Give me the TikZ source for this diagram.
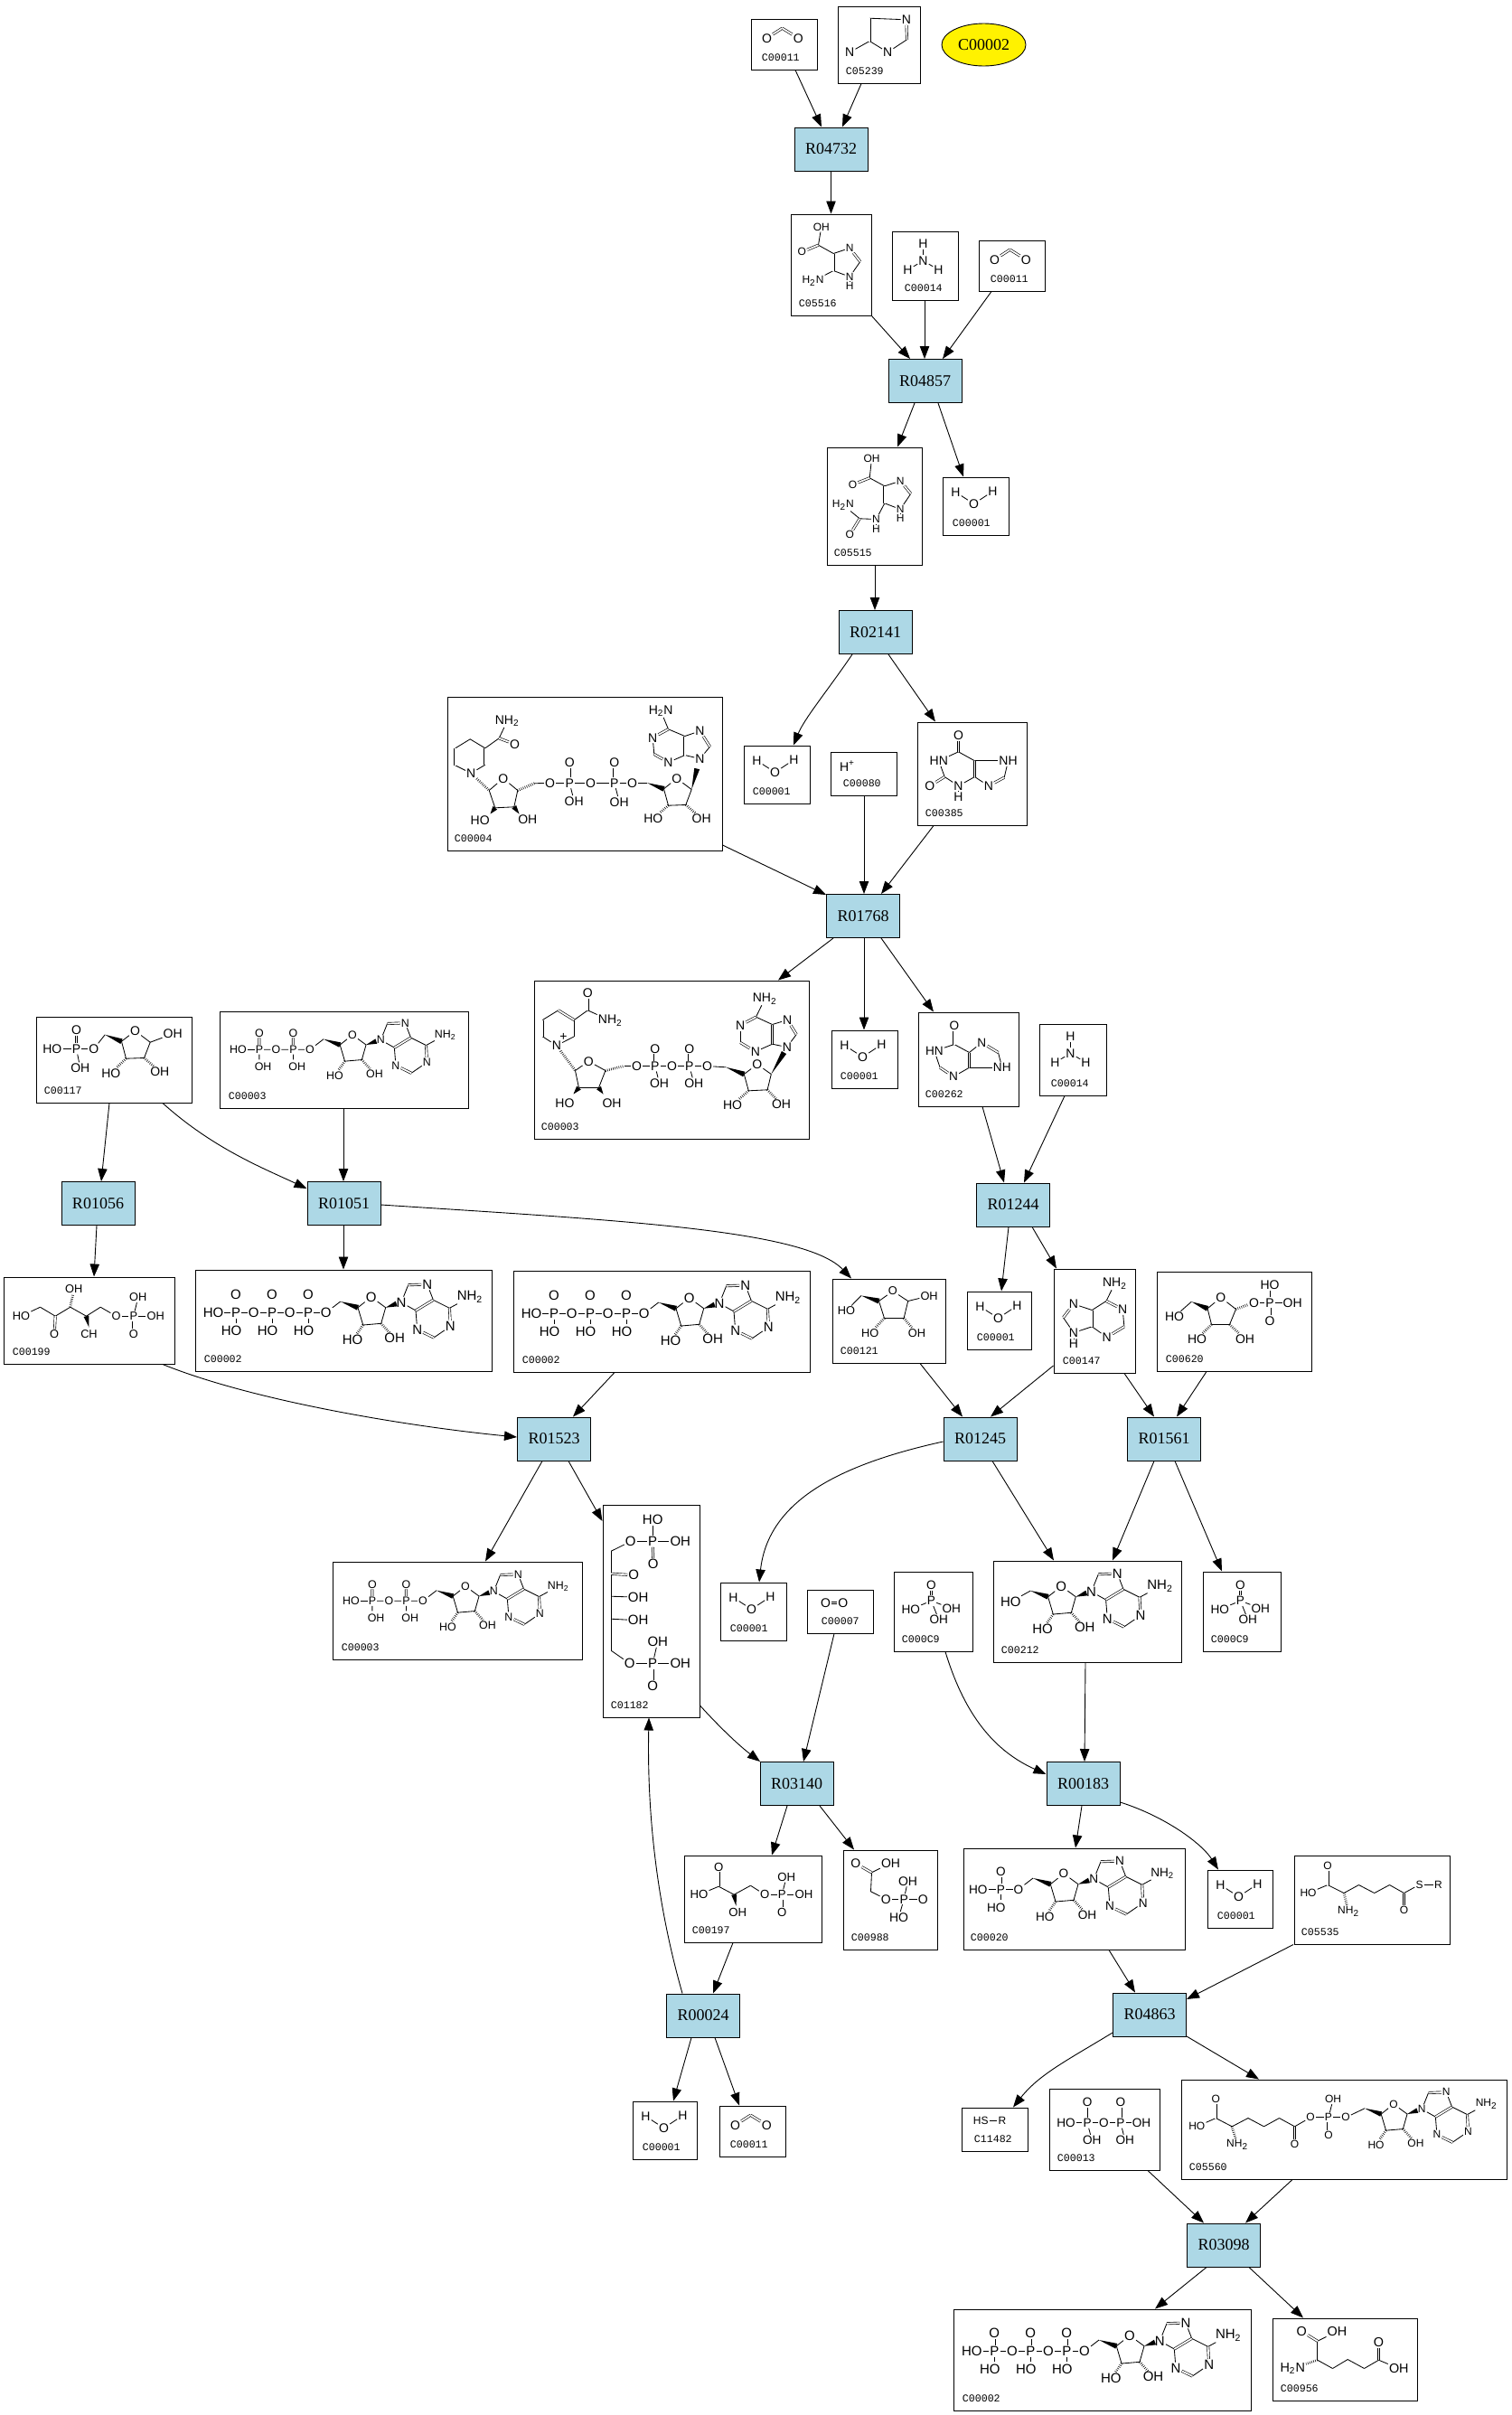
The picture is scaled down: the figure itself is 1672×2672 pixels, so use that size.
\documentclass[tikz,border=0pt]{standalone}
\usepackage{fontspec}
\setmainfont{Liberation Sans}
\newfontfamily\rxnfont{Liberation Serif}
\newfontfamily\capfont{Liberation Mono}
\usetikzlibrary{arrows.meta,calc,shapes.geometric}
\definecolor{rxnBlue}{HTML}{ADD8E6}
\def\atsize{7.5}
\tikzset{
  cmpd/.style={draw=black, line width=.5pt, inner sep=0pt},
  clab/.style={anchor=base west, inner sep=0pt, font=\capfont\fontsize{5.8}{6}\selectfont},
  rxn/.style={draw=black, fill=rxnBlue, line width=.5pt, inner sep=0pt, minimum width=40.5pt, minimum height=24pt, font=\rxnfont\fontsize{9}{10}\selectfont},
  spot/.style={ellipse, draw=black, fill=yellow, line width=.45pt, inner sep=0pt, minimum width=46.5pt, minimum height=23.5pt, font=\rxnfont\fontsize{9}{10}\selectfont},
  arr/.style={-{Triangle[length=7pt,width=5.2pt]}, line width=.45pt, black},
  atom/.style={inner sep=.4pt, font=\fontsize{\atsize}{\atsize}\selectfont},
  bond/.style={line width=.42pt},
  dbl/.style={line width=.32pt, double, double distance=.85pt},
  hashb/.style={line width=1.4pt, dash pattern=on .28pt off .8pt},
  atsz/.code={\def\atsize{#1}},
}
% helpers for the structure formulas
\newcommand\verts[1]{\foreach \na/\px/\py in {#1} \coordinate (-\na) at (\px,\py);}
\newcommand\atoms[1]{\foreach \na/\px/\py/\lb in {#1} \node[atom] (-\na) at (\px,\py) {\lb};}
\newcommand\bonds[1]{\foreach \pa/\pb in {#1} \draw[bond] (-\pa) -- (-\pb);}
\newcommand\dbonds[1]{\foreach \pa/\pb in {#1} \draw[dbl] (-\pa) -- (-\pb);}
\newcommand\hashes[1]{\foreach \pa/\pb in {#1} \draw[hashb] (-\pa) -- (-\pb);}
\newcommand\wedges[1]{\foreach \pa/\pb in {#1} \fill (-\pa) -- ($(-\pb)!1.5pt!90:(-\pa)$) -- ($(-\pb)!1.5pt!-90:(-\pa)$) -- cycle;}
\newcommand\nht{NH\textsubscript{2}}
\newcommand\hnt{H\textsubscript{2}N}
\newcommand\adocore{%
  \verts{c4/-14.7/11.7, c3/-9/31, c2/11/29.3, c1/16/11.7, ch/-34/5, w9/28/7.5, c8/41/-13.3, c5/68.7/3.3, c4b/49.3/15, c2b/69.3/45, c6/86.7/12.3}
  \atoms{o/0/0/O, n9/33.3/6/N, n7/62/-14/N, n3/51/36/N, n1/87.7/32.3/N, nh/109.3/0/\nht, ho/-20.7/47.7/HO, oh/26/45.7/OH}
  \bonds{c4/o, o/c1, c1/c2, c2/c3, c3/c4, n9/c8, n7/c5, c5/c6, c6/nh, n1/c2b, n3/c4b, c4b/n9}
  \dbonds{c8/n7, c5/c4b, c6/n1, c2b/n3}
  \hashes{c3/ho, c2/oh}
  \wedges{ch/c4, c1/w9}
}
\newcommand\phoschain[3]{%
  \foreach \k in {1,...,#1}{
    \pgfmathsetmacro\xp{-69.7-40*(\k-1)}
    \pgfmathtruncatemacro\j{\k-1}
    \node[atom] (-o\k) at ({\xp+19.7},17.3) {O};
    \node[atom] (-p\k) at (\xp,17.3) {P};
    \node[atom] (-u\k) at (\xp,-2.3) {O};
    \node[atom] (-d\k) at ({\xp+#3},37.7) {#2};
    \draw[bond] (-o\k) -- (-p\k);
    \draw[dbl] (-p\k) -- (-u\k);
    \draw[bond] (-p\k) -- (\xp,29);
    \ifnum\k>1 \draw[bond] (-o\k) -- (-p\j); \fi
  }
  \node[atom] (-t) at ({-69.7-40*(#1-1)-25},17.3) {HO};
  \draw[bond] (-t) -- (-p#1);
  \draw[bond] (-ch) -- (-o1);
}
\tikzset{
  pics/water/.style={code={\atoms{a/15/17/H, o/35/30/O, b/56/16/H}\bonds{a/o, o/b}}},
  pics/co2/.style={code={\verts{c/35/10.7}\atoms{a/18/21.7/O, b/52.7/21.7/O}\dbonds{a/c, c/b}}},
  pics/nh3/.style={code={\atoms{t/35/14/H, n/35/33/N, l/18/43/H, r/52/43/H}\bonds{t/n, n/l, n/r}}},
  pics/phosac/.style={code={\atoms{o/42/15/O, p/42/32.7/P, l/19.3/42/HO, r/64.3/41/OH, d/50.3/53.7/OH}\dbonds{o/p}\bonds{p/l, p/r, p/d}}},
  pics/ado/.style={code={\adocore}},
  pics/atp/.style={code={\adocore\phoschain{3}{HO}{-5}}},
  pics/adp/.style={code={\adocore\phoschain{2}{OH}{4.5}}},
  pics/amp/.style={code={\adocore\phoschain{1}{HO}{-5}}},
  pics/ade/.style={code={\adocore\atoms{hy/-56/17.3/HO}\bonds{ch/hy}}},
  pics/aminoimid/.style={code={
    \verts{a/35.7/13.7, b/35.7/39, c/77/37.3}
    \atoms{n1/76.3/15.3/N, n2/55.7/51.3/N, n3/13.7/51.3/N}
    \bonds{a/n1, b/n2, n2/c, b/n3}\dbonds{a/b, c/n1}}},
  pics/aicar/.style={code={
    \verts{c/31/34.7, c4/47.7/44, c2/77.3/53, c5/47.7/63}
    \atoms{oh/34.3/14.7/OH, o/12.7/42.3/O, n3/65.7/38/N, n1/65.7/69.7/N, h/65.7/79.7/H, am/25/74.7/\hnt}
    \bonds{oh/c, c/c4, c4/n3, c2/n1, n1/c5, n1/h, c5/am}\dbonds{c/o, c4/c5, n3/c2}}},
  pics/faicar/.style={code={
    \verts{c/47.7/34.3, c4/64.3/43.3, c2/93.3/51.7, c5/64.3/62.3, f/36.7/79.3}
    \atoms{oh/50/13.3/OH, o/29/41.7/O, n3/81.7/37.7/N, n1/81.7/69/N, h/81.7/79/H, nn/55/80/N, hh/55/90.7/H, ob/25.7/97.3/O, am/18.3/64.3/\hnt}
    \bonds{oh/c, c/c4, c4/n3, c2/n1, n1/c5, n1/h, c5/nn, nn/hh, nn/f, f/am}\dbonds{c/o, c4/c5, n3/c2, f/ob}}},
  pics/xanth/.style={code={
    \verts{c6/46/33.3, c2/30.7/61, c4/64/61, c5/64/43.3, c8/96.7/61.7}
    \atoms{o/46/15/O, hn/24.3/43.3/HN, ob/14.3/71/O, n3/46/71/N, h/46/82.7/H, nh/101/43.3/NH, n/79.3/71/N}
    \bonds{c6/hn, hn/c2, c2/n3, n3/h, n3/c4, c5/c6, c5/nh, nh/c8, n/c4}\dbonds{c6/o, c2/ob, c4/c5, c8/n}}},
  pics/hypox/.style={code={
    \verts{c6/40.4/36, c2/24.6/61.7, c4/57/61.7, c5/57/45, c8/89/45}
    \atoms{o/40.4/15/O, hn/18.4/43.3/HN, n3/39.6/71.7/N, n7/70.8/34/N, nh/93.3/61.7/NH}
    \bonds{c6/hn, hn/c2, n3/c4, c5/c6, c5/n7, c8/nh, nh/c4}\dbonds{c6/o, c2/n3, c4/c5, n7/c8}}},
  pics/adenine/.style={code={
    \verts{c6/58.5/36, c2/78.4/64.3, c4/42.8/64.3, c5/42.8/46, c8/11/54.3}
    \atoms{nh/68/16.7/\nht, n1/76.7/45.3/N, n3/59.2/76/N, n7/22.5/39.3/N, n9/22.5/71/N, h/22.5/83.3/H}
    \bonds{c6/nh, c6/c5, n1/c2, n3/c4, c5/n7, c8/n9, n9/c4, n9/h}\dbonds{c6/n1, c2/n3, c4/c5, n7/c8}}},
  pics/nadh/.style={code={
    \verts{a1/9.3/76.3, a2/9.3/57.3, a3/25.7/47.3, a4/42.3/57.3, a5/42.3/75.7, am/57.7/46.3, r1/46.7/104, r2/53.3/123.3, r3/74.3/122.3, r4/78.3/104, ch/96.7/96.3, s4/240/102.3, s3/245/120.7, s2/264.3/120, s1/270.7/103, sch/221.7/95.7, w9/276.7/80, g8/291/55.7, g5/263.3/44, g4/263.3/65, g2/229.3/64, g6/245/36.3, t1/48/130, t2/80/130}
    \atoms{n/26.7/85/N, ao/75/53/O, an/66.7/27.3/\nht, ro/62.3/90.7/O, rh/36.7/136.7/HO, rk/89.3/135.7/OH, o1/114/95.7/O, p1/135.7/95.7/P, u1/135.7/73/O, d1/140.7/115.7/OH, o2/159/95.7/O, p2/185.3/95.7/P, u2/185.3/73/O, d2/190.7/116.7/OH, o3/205/95.7/O, so/254.3/90.7/O, sh/228.3/135/HO, sk/281.7/135/OH, n9/280/69/N, n7/280/38.3/N, n3/245/73/N, n1/227.7/45.7/N, ah/236.7/16.3/\hnt}
    \bonds{n/a1, a2/a3, a3/a4, a5/n, a4/am, am/an, r1/ro, ro/r4, r4/r3, r3/r2, r2/r1, ch/o1, o1/p1, p1/o2, o2/p2, p2/o3, o3/sch, s4/so, so/s1, s1/s2, s2/s3, s3/s4, n9/g4, n9/g8, n7/g5, g5/g6, g4/n3, g2/n1, g6/ah, p1/d1, p2/d2}
    \dbonds{a1/a2, a4/a5, am/ao, p1/u1, p2/u2, g8/n7, g4/g5, n3/g2, n1/g6}
    \hashes{n/r1, r4/ch, s3/sh, s2/sk}
    \wedges{sch/s4, s1/w9, t1/r2, t2/r3}}},
  pics/nadp/.style={code={
    \verts{a1/9.8/62.3, a2/9.8/44, a3/27.3/33.3, a4/44.8/44, a5/44.8/62.3, am/59.8/33.3, r1/46/100, r2/50/119, r3/72/119, r4/79.4/100, ch/100/95, s4/232.8/104, s3/237.8/122.3, s2/258.6/121.3, s1/262.8/104, sch/212.8/96.3, w9/277/80, g8/290.7/60, g5/264/49, g4/264/70.7, g2/228.6/69, g6/246/40.7, t1/44/126, t2/77/126}
    \atoms{n/25.3/72.3/N, pl/33/63/+, ao/59.8/14/O, an/84.8/44.7/\nht, ro/60.7/89.7/O, rh/34.4/135.7/HO, rk/86.5/135.7/OH, o1/114/95/O, p1/134.4/95/P, u1/134.4/75.7/O, d1/139/114/OH, o2/153/95/O, p2/172.3/95/P, u2/172.3/75.7/O, d2/177.3/114/OH, o3/192/95/O, so/247.3/93/O, sh/220/138/HO, sk/274/137.3/OH, n9/280.3/74/N, n7/280.7/44/N, n3/245.3/79/N, n1/228.6/50/N, ah/255.7/20.7/\nht}
    \bonds{n/a1, a2/a3, a4/a5, a5/n, a4/am, am/an, r1/ro, ro/r4, r4/r3, r3/r2, r2/r1, ch/o1, o1/p1, p1/o2, o2/p2, p2/o3, o3/sch, s4/so, so/s1, s1/s2, s2/s3, s3/s4, n9/g4, n9/g8, n7/g5, g5/g6, g4/n3, g2/n1, g6/ah, p1/d1, p2/d2}
    \dbonds{a1/a2, a3/a4, am/ao, p1/u1, p2/u2, g8/n7, g4/g5, n3/g2, n1/g6}
    \hashes{n/r1, r4/ch, s3/sh, s2/sk}
    \wedges{sch/s4, s1/w9, t1/r2, t2/r3}}},
  pics/r5p/.style={code={
    \verts{ch/76.7/20.3, c4/95/27.7, c1/126.7/28.7, c2/120/46, c3/100/46.7}
    \atoms{u/45/15/O, p/45/36/P, l/18.3/36/HO, d/49.3/57/OH, o/64.3/36/O, ro/110/16/O, ho/83.3/62.7/HO, oh/137.3/61/OH, ot/151.7/19.3/OH}
    \bonds{l/p, p/o, p/d, o/ch, c4/ro, ro/c1, c1/c2, c2/c3, c3/c4, c1/ot}\dbonds{u/p}\hashes{c3/ho, c2/oh}\wedges{ch/c4}}},
  pics/ru5p/.style={code={
    \verts{a/41/33.7, b/57.7/43.7, c/74.3/33.7, e/92/43.7, f/107.7/33.7, w/95/56}
    \atoms{ho/20/43.7/HO, ob/56.7/63.7/O, oh/78.3/13.7/OH, ch/95/63.7/CH, o/125/43.7/O, p/144.3/43.7/P, u/149.3/23/OH, r/168.7/43.7/OH, d/144.3/63.7/O}
    \bonds{ho/a, a/b, b/c, c/e, e/f, f/o, o/p, p/u, p/r}\dbonds{b/ob, p/d}\hashes{c/oh}\wedges{w/e}}},
  pics/ribose/.style={code={
    \verts{ch/32.4/19, c4/52/25, c1/84.2/25, c2/79.6/44, c3/58/44}
    \atoms{hy/16/35.7/HO, o/67.4/14/O, ho/42.2/60.7/HO, oh/94/60.7/OH, ot/107.6/19.3/OH}
    \bonds{hy/ch, c4/o, o/c1, c1/c2, c2/c3, c3/c4, c1/ot}\hashes{c3/ho, c2/oh}\wedges{ch/c4}}},
  pics/rib1p/.style={code={
    \verts{ch/38.8/33.7, c4/56.6/41.3, c1/88/42, c2/81/59, c3/61/59}
    \atoms{hy/20/50.3/HO, ro/71.3/29/O, ho/45/74.7/HO, oh/98/74.7/OH, o/108/34.7/O, p/125.5/34.7/P, u/125.5/15.3/HO, r/150.7/34.7/OH, d/125.5/54.7/O}
    \bonds{hy/ch, c4/ro, ro/c1, c1/c2, c2/c3, c3/c4, o/p, p/u, p/r}\dbonds{p/d}\hashes{c3/ho, c2/oh, c1/o}\wedges{ch/c4}}},
  pics/rubp/.style={code={
    \verts{a/9.7/51.7, b/9.7/76.7, c/9.7/101.7, e/9.7/126.7, f/9.7/161.7}
    \atoms{ht/55.7/16.7/HO, p1/55.7/41/P, o1/31.3/41/O, r1/86.3/41/OH, u1/56.3/66/O, ob/34.7/78.3/O, oc/39.7/102.7/OH, oe/39.7/128.3/OH, o2/30.3/176/O, p2/55.7/176/P, t2/61.3/151.7/OH, r2/86.3/176/OH, d2/55.7/201/O}
    \bonds{o1/a, a/f, o1/p1, p1/r1, p1/ht, c/oc, e/oe, f/o2, o2/p2, p2/r2, p2/t2}\dbonds{p1/u1, b/ob, p2/d2}}},
  pics/dioxy/.style={code={\atoms{a/21/15/O, b/40.3/15/O}\dbonds{a/b}}},
  pics/pgly/.style={code={
    \verts{c/38.7/34.7, a/55.7/43.7, w/58/56, b/74/33.7}
    \atoms{u/38.7/13/O, ho/17/43.7/HO, oh/59.7/63.7/OH, o/89.7/43.7/O, p/108.7/43.7/P, t/113.7/24.3/OH, r/133/43.7/OH, d/108.7/63/O}
    \bonds{ho/c, c/a, a/b, b/o, o/p, p/t, p/r}\dbonds{c/u, p/d}\wedges{w/a}}},
  pics/pglyco/.style={code={
    \verts{c/32/25.3, a/31/46.3}
    \atoms{u/14.3/15.3/O, oh/53/14.7/OH, o/47.7/54.7/O, p/67.7/54.7/P, t/72/34.7/OH, r/88.7/54.7/O, d/62/74.7/HO}
    \bonds{c/oh, c/a, a/o, o/p, p/t, p/r, p/d}\dbonds{c/u}}},
  pics/lys/.style={code={
    \verts{c/37.6/33, a/55.5/42, b/72/33, e/89.2/42, f/106/33, g/122/42}
    \atoms{u/37.6/12/O, ho/16/42/HO, am/60.6/62/\nht, ob/122/61/O, s/139/32.7/S, r/160/32.7/R}
    \bonds{ho/c, c/a, a/b, b/e, e/f, f/g, g/s, s/r}\dbonds{c/u, g/ob}\hashes{a/am}}},
  pics/thiol/.style={code={\atoms{a/21.7/14.7/HS, b/45.5/14.7/R}\bonds{a/b}}},
  pics/ppi/.style={code={
    \atoms{u/42.6/15/O, p/42.6/38.3/P, l/19/38.3/HO, d/47.7/57.3/OH, o/61/38.3/O, q/79.5/38.3/P, v/79.5/15/O, r/102.5/38.3/OH, e/84.2/57.3/OH}
    \bonds{u/p, p/l, p/d, p/o, o/q, q/r, q/e}\dbonds{q/v}}},
  pics/lysp/.style={code={
    \verts{c/38.8/43, a/56.7/52.3, b/74.5/43, e/92/52.3, f/109/43, g/126/52.3}
    \atoms{u/38.8/22.3/O, ho/17.8/52.3/HO, am/62.6/72.3/\nht, ob/126/72.3/O, o/143.6/42.3/O, p/163.4/42.3/P, t/168.6/22.3/OH, d/163.4/62.3/O, q/182.5/42.3/O}
    \bonds{ho/c, c/a, a/b, b/e, e/f, f/g, g/o, o/p, p/t, p/q}\dbonds{c/u, g/ob, p/d}\hashes{a/am}}},
  pics/aadip/.style={code={
    \verts{c/50.3/25.7, a/50.3/46.7, b/67/56, e/83.7/46, f/102/56, g/118/46.7}
    \atoms{u/32.7/15/O, oh/72/15/OH, am/22.7/55.7/\hnt, ob/118/26.7/O, r/140.3/56/OH}
    \bonds{c/oh, c/a, a/b, b/e, e/f, f/g, g/r}\dbonds{c/u, g/ob}\hashes{a/am}}},
}
\newcommand\cmpdbox[7][10]{%
  \node[cmpd, minimum width={(#5-#3)*.5pt}, minimum height={(#6-#4)*.5pt}] (#2) at ({(#3+#5)/2},{(#4+#6)/2}) {};
  \node[clab] (#2-lb) at ([xshift={#1*.5pt},yshift=5pt]#2.south west) {#7};
}
\begin{document}
\begin{tikzpicture}[x=.5pt,y=-.5pt]
  \path[use as bounding box, fill=white] (0,0) rectangle (1672,2672);
  % compounds
  \cmpdbox[12]{c00011a}{831}{21}{904}{77}{C00011}
  \cmpdbox[9]{c05239}{927}{7}{1018}{92}{C05239}
  \node[spot] (c00002s) at (1088.5,49.5) {C00002};
  \cmpdbox[9]{c05516}{875}{237}{964}{349}{C05516}
  \cmpdbox[14]{c00014a}{987}{256}{1060}{332}{C00014}
  \cmpdbox[13]{c00011b}{1083}{266}{1156}{322}{C00011}
  \cmpdbox[8]{c05515}{915}{495}{1020}{625}{C05515}
  \cmpdbox[11]{c00001a}{1043}{528}{1116}{592}{C00001}
  \cmpdbox{c00001b}{823}{825}{896}{889}{C00001}
  \cmpdbox[14]{c00080}{919}{832}{992}{880}{C00080}
  \cmpdbox[9]{c00385}{1015}{799}{1136}{913}{C00385}
  \cmpdbox[8]{c00004}{495}{771}{799}{941}{C00004}
  \cmpdbox[8]{c00003a}{591}{1085}{895}{1260}{C00003}
  \cmpdbox{c00001c}{920}{1140}{993}{1204}{C00001}
  \cmpdbox[8]{c00262}{1016}{1120}{1127}{1224}{C00262}
  \cmpdbox[13]{c00014b}{1150}{1133}{1224}{1212}{C00014}
  \cmpdbox[9]{c00117}{40}{1125}{212}{1220}{C00117}
  \cmpdbox{c00003b}{243}{1119}{518}{1226}{C00003}
  \cmpdbox{c00199}{4}{1413}{193}{1509}{C00199}
  \cmpdbox{c00002a}{216}{1405}{544}{1517}{C00002}
  \cmpdbox{c00002b}{568}{1406}{896}{1518}{C00002}
  \cmpdbox[9]{c00121}{921}{1415}{1046}{1508}{C00121}
  \cmpdbox[11]{c00001d}{1070}{1429}{1141}{1493}{C00001}
  \cmpdbox{c00147}{1166}{1404}{1256}{1519}{C00147}
  \cmpdbox{c00620}{1280}{1407}{1451}{1517}{C00620}
  \cmpdbox{c00003c}{368}{1728}{644}{1836}{C00003}
  \cmpdbox[9]{c01182}{667}{1665}{774}{1900}{C01182}
  \cmpdbox[11]{c00001e}{797}{1751}{870}{1815}{C00001}
  \cmpdbox[16]{c00007}{893}{1759}{966}{1807}{C00007}
  \cmpdbox[9]{c00009a}{989}{1739}{1076}{1827}{C000C9}
  \cmpdbox[9]{c00212}{1099}{1727}{1307}{1839}{C00212}
  \cmpdbox[9]{c00009b}{1331}{1739}{1417}{1827}{C000C9}
  \cmpdbox[9]{c00197}{757}{2053}{909}{2149}{C00197}
  \cmpdbox[9]{c00988}{933}{2047}{1037}{2157}{C00988}
  \cmpdbox[8]{c00020}{1066}{2045}{1311}{2157}{C00020}
  \cmpdbox[11]{c00001f}{1336}{2069}{1408}{2133}{C00001}
  \cmpdbox[8]{c05535}{1432}{2053}{1604}{2151}{C05535}
  \cmpdbox[11]{c00001g}{700}{2325}{771}{2389}{C00001}
  \cmpdbox[12]{c00011c}{796}{2330}{869}{2386}{C00011}
  \cmpdbox[14]{c11482}{1064}{2332}{1137}{2380}{C11482}
  \cmpdbox[9]{c00013}{1161}{2311}{1283}{2401}{C00013}
  \cmpdbox[9]{c05560}{1307}{2301}{1667}{2411}{C05560}
  \cmpdbox{c00002c}{1055}{2555}{1384}{2667}{C00002}
  \cmpdbox[9]{c00956}{1408}{2565}{1568}{2656}{C00956}
  % reactions
  \node[rxn] (r04732) at (919.5,165) {R04732};
  \node[rxn] (r04857) at (1023.5,421.5) {R04857};
  \node[rxn] (r02141) at (968.5,699.5) {R02141};
  \node[rxn] (r01768) at (955,1013.5) {R01768};
  \node[rxn] (r01056) at (108.5,1331.5) {R01056};
  \node[rxn] (r01051) at (380.5,1331.5) {R01051};
  \node[rxn] (r01244) at (1121,1333) {R01244};
  \node[rxn] (r01523) at (613,1592) {R01523};
  \node[rxn] (r01245) at (1084.5,1592) {R01245};
  \node[rxn] (r01561) at (1288,1592) {R01561};
  \node[rxn] (r03140) at (881.5,1973.5) {R03140};
  \node[rxn] (r00183) at (1198.5,1973.5) {R00183};
  \node[rxn] (r00024) at (778,2230) {R00024};
  \node[rxn] (r04863) at (1272,2229) {R04863};
  \node[rxn] (r03098) at (1354,2484) {R03098};
  % structures
  \foreach \w in {c00001a,c00001b,c00001c,c00001d,c00001e,c00001f,c00001g}
    \pic[atsz=7] (\w-m) at (\w.north west) {water};
  \foreach \w in {c00011a,c00011b,c00011c}
    \pic[atsz=7] (\w-m) at (\w.north west) {co2};
  \foreach \w in {c00014a,c00014b}
    \pic[atsz=7] (\w-m) at (\w.north west) {nh3};
  \foreach \w in {c00009a,c00009b}
    \pic[atsz=6.8] (\w-m) at (\w.north west) {phosac};
  \pic[atsz=7] (c05239-m) at (c05239.north west) {aminoimid};
  \pic[atsz=6] (c05516-m) at (c05516.north west) {aicar};
  \pic[atsz=6] (c05515-m) at (c05515.north west) {faicar};
  \node[atom, atsz=7] (c00080-m) at ([xshift=9.5pt,yshift=-8pt]c00080.north west) {H\textsuperscript{+}};
  \pic[atsz=7] (c00385-m) at (c00385.north west) {xanth};
  \pic[atsz=7] (c00004-m) at (c00004.north west) {nadh};
  \pic[atsz=7] (c00003a-m) at (c00003a.north west) {nadp};
  \pic[atsz=6.8] (c00262-m) at (c00262.north west) {hypox};
  \pic[atsz=7] (c00117-m) at (c00117.north west) {r5p};
  \pic[atsz=6.2,scale=.94] (c00003b-m) at (390,1145) {adp};
  \pic[atsz=6.4] (c00199-m) at (c00199.north west) {ru5p};
  \pic (c00002a-m) at (410.7,1435) {atp};
  \pic (c00002b-m) at (762.7,1436) {atp};
  \pic[atsz=6.4] (c00121-m) at (c00121.north west) {ribose};
  \pic[atsz=7] (c00147-m) at (c00147.north west) {adenine};
  \pic[atsz=7] (c00620-m) at (c00620.north west) {rib1p};
  \pic[atsz=6.2,scale=.94] (c00003c-m) at (515,1755) {adp};
  \pic[atsz=7.5] (c01182-m) at (c01182.north west) {rubp};
  \pic[atsz=7] (c00007-m) at (c00007.north west) {dioxy};
  \pic (c00212-m) at (1174.3,1755) {ade};
  \pic[atsz=6.6] (c00197-m) at (c00197.north west) {pgly};
  \pic[atsz=7] (c00988-m) at (c00988.north west) {pglyco};
  \pic[atsz=6.8] (c00020-m) at (1177,2073) {amp};
  \pic[atsz=6] (c05535-m) at (c05535.north west) {lys};
  \pic[atsz=6] (c11482-m) at (c11482.north west) {thiol};
  \pic[atsz=6.8] (c00013-m) at (c00013.north west) {ppi};
  \pic[atsz=6] (c05560-m) at (c05560.north west) {lysp};
  \pic[atsz=6,scale=.94] (c05560-a) at (1542,2328) {ado};
  \draw[bond] (c05560-m-q) -- (c05560-a-ch);
  \pic (c00002c-m) at (1250,2584) {atp};
  \pic[atsz=7.2] (c00956-m) at (c00956.north west) {aadip};
  % edges
  \draw[arr] (880,0 |- c00011a.south) -- (909,0 |- r04732.north);
  \draw[arr] (953,0 |- c05239.south) -- (932,0 |- r04732.north);
  \draw[arr] (r04732) -- (c05516);
  \draw[arr] (c05516.south east) -- (1007,0 |- r04857.north);
  \draw[arr] (1023,0 |- c00014a.south) -- (1023,0 |- r04857.north);
  \draw[arr] (1097,0 |- c00011b.south) -- (1043,0 |- r04857.north);
  \draw[arr] (1012,0 |- r04857.south) -- (993,0 |- c05515.north);
  \draw[arr] (1038,0 |- r04857.south) -- (1066,0 |- c00001a.north);
  \draw[arr] (968,0 |- c05515.south) -- (968,0 |- r02141.north);
  \draw[arr] (943,0 |- r02141.south) .. controls (915,765) and (890,795) .. (878,0 |- c00001b.north);
  \draw[arr] (983,0 |- r02141.south) -- (1035,0 |- c00385.north);
  \draw[arr] (c00004.east |- 0,935) -- (r01768.west |- 0,990);
  \draw[arr] (956,0 |- c00080.south) -- (956,0 |- r01768.north);
  \draw[arr] (1033,0 |- c00385.south) -- (975,0 |- r01768.north);
  \draw[arr] (922,0 |- r01768.south) -- (861,0 |- c00003a.north);
  \draw[arr] (956,0 |- r01768.south) -- (956,0 |- c00001c.north);
  \draw[arr] (975,0 |- r01768.south) -- (1033,0 |- c00262.north);
  \draw[arr] (1087,0 |- c00262.south) -- (1111,0 |- r01244.north);
  \draw[arr] (1178,0 |- c00014b.south) -- (1133,0 |- r01244.north);
  \draw[arr] (1116,0 |- r01244.south) -- (1108,0 |- c00001d.north);
  \draw[arr] (1142,0 |- r01244.south) -- (1169,0 |- c00147.north);
  \draw[arr] (c00147.west |- 0,1511) -- (1096,0 |- r01245.north);
  \draw[arr] (1244,0 |- c00147.south) -- (1277,0 |- r01561.north);
  \draw[arr] (1335,0 |- c00620.south) -- (1302,0 |- r01561.north);
  \draw[arr] (1018,0 |- c00121.south) -- (1065,0 |- r01245.north);
  \draw[arr] (r01051.east |- 0,1333) .. controls (680,1350) and (890,1360) .. (942,0 |- c00121.north);
  \draw[arr] (121,0 |- c00117.south) -- (112,0 |- r01056.north);
  \draw[arr] (180,0 |- c00117.south) .. controls (235,1270) and (290,1292) .. (r01051.west |- 0,1315);
  \draw[arr] (380,0 |- c00003b.south) -- (380,0 |- r01051.north);
  \draw[arr] (380,0 |- r01051.south) -- (380,0 |- c00002a.north);
  \draw[arr] (107,0 |- r01056.south) -- (104,0 |- c00199.north);
  \draw[arr] (180,0 |- c00199.south) .. controls (280,1550) and (450,1578) .. (r01523.west |- 0,1590);
  \draw[arr] (680,0 |- c00002b.south) -- (634,0 |- r01523.north);
  \draw[arr] (600,0 |- r01523.south) -- (537,0 |- c00003c.north);
  \draw[arr] (629,0 |- r01523.south) -- (c01182.west |- 0,1683);
  \draw[arr] (r01245.west |- 0,1595) .. controls (930,1620) and (850,1660) .. (840,0 |- c00001e.north);
  \draw[arr] (1098,0 |- r01245.south) -- (1166,0 |- c00212.north);
  \draw[arr] (1277,0 |- r01561.south) -- (1231,0 |- c00212.north);
  \draw[arr] (1300,0 |- r01561.south) -- (1352,0 |- c00009b.north);
  \draw[arr] (c01182.east |- 0,1887) .. controls (800,1915) and (820,1933) .. (841,0 |- r03140.north);
  \draw[arr] (923,0 |- c00007.south) -- (889,0 |- r03140.north);
  \draw[arr] (1046,0 |- c00009a.south) .. controls (1065,1890) and (1095,1935) .. (r00183.west |- 0,1963);
  \draw[arr] (1201,0 |- c00212.south) -- (1200,0 |- r00183.north);
  \draw[arr] (871,0 |- r03140.south) -- (854,0 |- c00197.north);
  \draw[arr] (907,0 |- r03140.south) -- (945,0 |- c00988.north);
  \draw[arr] (1197,0 |- r00183.south) -- (1190,0 |- c00020.north);
  \draw[arr] (r00183.east |- 0,1994) .. controls (1290,2010) and (1330,2040) .. (1348,0 |- c00001f.north);
  \draw[arr] (1227,0 |- c00020.south) -- (1256,0 |- r04863.north);
  \draw[arr] (1431,0 |- c05535.south) -- (r04863.east |- 0,2212);
  \draw[arr] (r04863.west |- 0,2249) .. controls (1180,2280) and (1150,2295) .. (1121,0 |- c11482.north);
  \draw[arr] (r04863.east |- 0,2253) -- (1393,0 |- c05560.north);
  \draw[arr] (1270,0 |- c00013.south) -- (1332,0 |- r03098.north);
  \draw[arr] (1430,0 |- c05560.south) -- (1378,0 |- r03098.north);
  \draw[arr] (1335,0 |- r03098.south) -- (1278,0 |- c00002c.north);
  \draw[arr] (1382,0 |- r03098.south) -- (1442,0 |- c00956.north);
  \draw[arr] (755,0 |- r00024.north) .. controls (725,2100) and (716,2000) .. (718,0 |- c01182.south);
  \draw[arr] (811,0 |- c00197.south) -- (789,0 |- r00024.north);
  \draw[arr] (765,0 |- r00024.south) -- (745,0 |- c00001g.north);
  \draw[arr] (791,0 |- r00024.south) -- (818,0 |- c00011c.north);
\end{tikzpicture}
\end{document}
